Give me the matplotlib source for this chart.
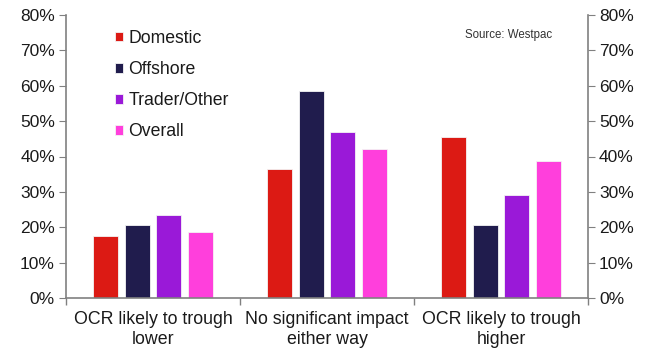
import matplotlib
matplotlib.use("Agg")
import matplotlib.pyplot as plt
import numpy as np
from matplotlib.ticker import PercentFormatter

plt.rcParams['font.family'] = ['Liberation Sans', 'DejaVu Sans']

categories = ["OCR likely to trough\nlower", "No significant impact\neither way", "OCR likely to trough\nhigher"]
series_names = ["Domestic", "Offshore", "Trader/Other", "Overall"]
domestic = [17.4, 36.6, 45.5]
offshore = [20.6, 58.6, 20.6]
trader = [23.4, 46.8, 29.2]
overall = [18.7, 42.1, 38.8]
colors = ["#dc1a14", "#201c4d", "#9a19d8", "#ff3fdc"]

values = [domestic, offshore, trader, overall]

fig = plt.figure(figsize=(6.52, 3.52), dpi=100)
ax = fig.add_axes([66/652, 1-298/352, (588-66)/652, (298-15)/352])

x = np.arange(len(categories))
pitch = 0.182
width = 0.145
for i, (name, vals, c) in enumerate(zip(series_names, values, colors)):
    ax.bar(x + (i - 1.5) * pitch, vals, width, color=c, label=name,
           edgecolor="#f4f4f4", linewidth=0.6)

ax.set_xlim(-0.5, 2.5)
ax.set_ylim(0, 80)
ax.set_yticks(np.arange(0, 81, 10))
ax.yaxis.set_major_formatter(PercentFormatter(decimals=0))
ax.set_xticks([-0.5, 0.5, 1.5, 2.5], minor=False)
ax.set_xticklabels([])
ax.set_xticks(x, minor=True)
ax.set_xticklabels(categories, minor=True, fontsize=12.8, color="#1a1a1a", linespacing=1.25)
ax.tick_params(axis='x', which='minor', length=0, pad=9)
ax.tick_params(axis='x', which='major', length=5, direction='out', color="#808080", width=1)

spine_c = "#808080"
for s in ["left", "right", "bottom"]:
    ax.spines[s].set_color(spine_c)
    ax.spines[s].set_linewidth(1.2)
ax.spines["top"].set_visible(False)
ax.tick_params(axis='y', which='both', left=True, right=True, labelleft=True, labelright=True,
               length=5, color=spine_c, labelsize=12.5, labelcolor="#1a1a1a", pad=3)

leg = ax.legend(loc="upper left", bbox_to_anchor=(115/652, 1-30/352), bbox_transform=fig.transFigure,
                frameon=False, fontsize=12.7, handlelength=0.45, handleheight=0.45,
                handletextpad=0.3, labelspacing=0.8, borderpad=0, borderaxespad=0)
for t in leg.get_texts():
    t.set_color("#1a1a1a")

fig.text(465/652, 1-35/352, "Source: Westpac", fontsize=8.3, color="#333333", va="center", ha="left")

fig.savefig("out.png", dpi=100)
